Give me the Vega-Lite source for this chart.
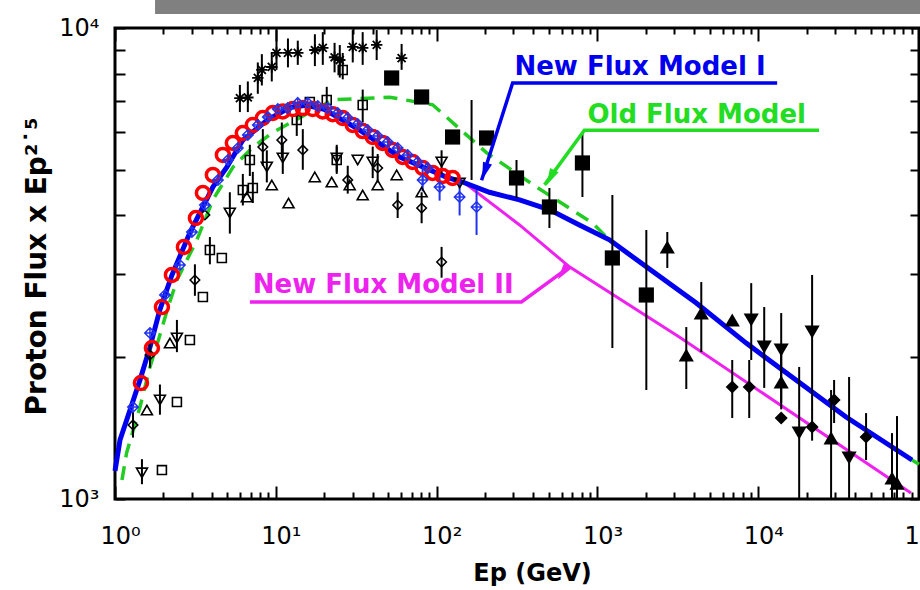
{
 "$schema": "https://vega.github.io/schema/vega-lite/v6.json",
 "width": 804, "height": 471,
 "autosize": "none",
 "padding": {"left": 115, "top": 28, "right": 1, "bottom": 91},
 "background": "white",
 "config": {"view": {"stroke": "black", "strokeWidth": 3}, "axis": {"domain": false, "ticks": true, "tickColor": "black", "tickWidth": 2, "grid": false}},
 "resolve": {"axis": {"x": "independent", "y": "independent"}},
 "datasets": {
  "bar": [{"E1": 1.774, "E2": 103000, "F1": 10708, "F2": 11466}],
  "curves": [
   {"s":"Old","E":1.105,"F":1097},{"s":"Old","E":1.18,"F":1252},{"s":"Old","E":1.43,"F":1568},{"s":"Old","E":1.65,"F":1906},{"s":"Old","E":1.86,"F":2174},{"s":"Old","E":2.14,"F":2556},{"s":"Old","E":2.43,"F":2917},{"s":"Old","E":3.23,"F":3548},{"s":"Old","E":4.06,"F":4316},{"s":"Old","E":5.42,"F":5067},{"s":"Old","E":7.21,"F":5585},{"s":"Old","E":9.57,"F":6000},{"s":"Old","E":22.6,"F":7040},{"s":"Old","E":51,"F":7130},{"s":"Old","E":94.5,"F":6870},{"s":"Old","E":205,"F":5430},{"s":"Old","E":418,"F":4595},{"s":"Old","E":931,"F":3855},{"s":"Old","E":1188,"F":3550},{"s":"Old","E":2015,"F":3111},{"s":"Old","E":4120,"F":2607},{"s":"Old","E":8420,"F":2143},{"s":"Old","E":35200,"F":1493},{"s":"Old","E":90500,"F":1210},{"s":"Old","E":100000,"F":1185},
   {"s":"I","E":1.0,"F":1147},{"s":"I","E":1.074,"F":1334},{"s":"I","E":1.24,"F":1545},{"s":"I","E":1.43,"F":1789},{"s":"I","E":1.65,"F":2101},{"s":"I","E":1.9,"F":2520},{"s":"I","E":2.26,"F":2989},{"s":"I","E":2.92,"F":3673},{"s":"I","E":4.06,"F":4595},{"s":"I","E":4.96,"F":5067},{"s":"I","E":6.24,"F":5782},{"s":"I","E":8.81,"F":6370},{"s":"I","E":12.2,"F":6780},{"s":"I","E":15.5,"F":6850},{"s":"I","E":20,"F":6720},{"s":"I","E":33.3,"F":6070},{"s":"I","E":59,"F":5322},{"s":"I","E":115,"F":4826},{"s":"I","E":145,"F":4710},{"s":"I","E":213,"F":4480},{"s":"I","E":328,"F":4316},{"s":"I","E":505,"F":4110},{"s":"I","E":773,"F":3818},{"s":"I","E":1188,"F":3550},{"s":"I","E":2015,"F":3111},{"s":"I","E":4120,"F":2607},{"s":"I","E":8420,"F":2143},{"s":"I","E":35200,"F":1493},{"s":"I","E":90500,"F":1210},
   {"s":"II","E":115,"F":4826},{"s":"II","E":149,"F":4690},{"s":"II","E":328,"F":3818},{"s":"II","E":670,"F":3111},{"s":"II","E":3230,"F":2208},{"s":"II","E":89100,"F":1030}
  ],
  "pts": [
   {"s":"ast","E":5.98,"F":7096,"lo":6630,"hi":7570},{"s":"ast","E":6.7,"F":7120,"lo":6630,"hi":7700},{"s":"ast","E":7.73,"F":7835,"lo":7250,"hi":8450},{"s":"ast","E":8.19,"F":8148,"lo":7550,"hi":8800},{"s":"ast","E":9.44,"F":8265,"lo":7700,"hi":8850},{"s":"ast","E":10.1,"F":8852,"lo":8150,"hi":9900},{"s":"ast","E":11.9,"F":8852,"lo":8250,"hi":9500},{"s":"ast","E":13.7,"F":8852,"lo":8350,"hi":9400},{"s":"ast","E":17.5,"F":8980,"lo":8300,"hi":9700},{"s":"ast","E":19.6,"F":9076,"lo":8350,"hi":9800},{"s":"ast","E":23.2,"F":8667,"lo":8050,"hi":9300},{"s":"ast","E":25.0,"F":8551,"lo":7850,"hi":9200},{"s":"ast","E":30.1,"F":9120,"lo":8450,"hi":9900},{"s":"ast","E":34.7,"F":9076,"lo":8350,"hi":9800},{"s":"ast","E":42.4,"F":9210,"lo":8550,"hi":9900},{"s":"ast","E":60.6,"F":8630,"lo":8150,"hi":9250},
   {"s":"osq","E":1.958,"F":1152},{"s":"osq","E":2.427,"F":1607},{"s":"osq","E":2.923,"F":2176},{"s":"osq","E":3.521,"F":2685},{"s":"osq","E":3.891,"F":3378,"lo":3150,"hi":3600},{"s":"osq","E":4.618,"F":3249},{"s":"osq","E":6.237,"F":4530,"lo":4200,"hi":4900},{"s":"osq","E":7.196,"F":4574,"lo":4250,"hi":4950},{"s":"osq","E":6.896,"F":5245,"lo":4850,"hi":5650},{"s":"osq","E":13.5,"F":6376,"lo":5900,"hi":6900},{"s":"osq","E":16.27,"F":6964},{"s":"osq","E":20.74,"F":7032,"lo":6600,"hi":7500},{"s":"osq","E":26.08,"F":8143,"lo":7780,"hi":8852},{"s":"osq","E":23.93,"F":5245,"lo":4900,"hi":5600},{"s":"osq","E":34.71,"F":6862,"lo":6300,"hi":7400},
   {"s":"otri","E":1.58,"F":1545},{"s":"otri","E":2.196,"F":2144},{"s":"otri","E":6.604,"F":4377},{"s":"otri","E":9.445,"F":4642},{"s":"otri","E":12.0,"F":4250},{"s":"otri","E":17.47,"F":4828},{"s":"otri","E":22.27,"F":4710},{"s":"otri","E":28.81,"F":4642},{"s":"otri","E":34.71,"F":4420},{"s":"otri","E":43.01,"F":4642},{"s":"otri","E":56.44,"F":4875},{"s":"otri","E":80.7,"F":4485},
   {"s":"otrd","E":1.471,"F":1136,"lo":1075,"hi":1215},{"s":"otrd","E":1.903,"F":1623,"lo":1510,"hi":1750},{"s":"otrd","E":2.427,"F":2197,"lo":2050,"hi":2400},{"s":"otrd","E":5.178,"F":4048,"lo":3660,"hi":4480},{"s":"otrd","E":8.794,"F":5069,"lo":4700,"hi":5500},{"s":"otrd","E":11.05,"F":5297,"lo":4900,"hi":5700},{"s":"otrd","E":23.93,"F":5297,"lo":4950,"hi":5650},{"s":"otrd","E":32.31,"F":5245},{"s":"otrd","E":40.05,"F":5195,"lo":4800,"hi":5600},{"s":"otrd","E":107.4,"F":5195,"lo":4900,"hi":5500},{"s":"otrd","E":139,"F":4688},
   {"s":"odia","E":1.294,"F":1436,"lo":1350,"hi":1530},{"s":"odia","E":1.65,"F":2022,"lo":1900,"hi":2150},{"s":"odia","E":3.14,"F":2917,"lo":2700,"hi":3150},{"s":"odia","E":3.623,"F":4009},{"s":"odia","E":8.305,"F":5590,"lo":5100,"hi":6100},{"s":"odia","E":10.9,"F":5783,"lo":5300,"hi":6300},{"s":"odia","E":14.72,"F":5508,"lo":5000,"hi":6100},{"s":"odia","E":28.01,"F":4757,"lo":4450,"hi":5100},{"s":"odia","E":43.01,"F":5045,"lo":4700,"hi":5400},{"s":"odia","E":57.25,"F":4209,"lo":3950,"hi":4480},{"s":"odia","E":80.7,"F":4147,"lo":3850,"hi":4480},{"s":"odia","E":107.4,"F":3185,"lo":2950,"hi":3430},
   {"s":"bar","E":165,"F":5800,"lo":4757,"hi":7032},
   {"s":"red","E":1.45,"F":1763},{"s":"red","E":1.697,"F":2092},{"s":"red","E":1.958,"F":2556},{"s":"red","E":2.26,"F":2990},{"s":"red","E":2.683,"F":3428},{"s":"red","E":3.185,"F":3950},{"s":"red","E":3.521,"F":4464},{"s":"red","E":4.062,"F":4875},{"s":"red","E":4.687,"F":5376},{"s":"red","E":5.407,"F":5700},{"s":"red","E":6.237,"F":5985},{"s":"red","E":7.196,"F":6224},{"s":"red","E":8.305,"F":6440},{"s":"red","E":9.581,"F":6600},{"s":"red","E":11.05,"F":6650},{"s":"red","E":12.76,"F":6730},{"s":"red","E":14.72,"F":6760},{"s":"red","E":16.98,"F":6730},{"s":"red","E":19.59,"F":6650},{"s":"red","E":22.6,"F":6560},{"s":"red","E":26.08,"F":6440},{"s":"red","E":30.08,"F":6224},{"s":"red","E":34.71,"F":6043},{"s":"red","E":40.05,"F":5869},{"s":"red","E":46.2,"F":5700},{"s":"red","E":53.31,"F":5508},{"s":"red","E":61.5,"F":5323},{"s":"red","E":70.96,"F":5195},{"s":"red","E":81.87,"F":5045},{"s":"red","E":94.46,"F":4923},{"s":"red","E":109,"F":4852},{"s":"red","E":125.7,"F":4804},
   {"s":"bl","E":1.294,"F":1568},{"s":"bl","E":1.65,"F":2251},{"s":"bl","E":2.045,"F":2711},{"s":"bl","E":2.533,"F":3140},{"s":"bl","E":3.008,"F":3689},{"s":"bl","E":3.623,"F":4209},{"s":"bl","E":4.363,"F":4757},{"s":"bl","E":5.035,"F":5245},{"s":"bl","E":5.808,"F":5563},{"s":"bl","E":6.701,"F":5927},{"s":"bl","E":7.731,"F":6224},{"s":"bl","E":8.92,"F":6471},{"s":"bl","E":10.29,"F":6730},{"s":"bl","E":11.87,"F":6763},{"s":"bl","E":13.7,"F":6933},{"s":"bl","E":15.81,"F":6933},{"s":"bl","E":18.24,"F":6830},{"s":"bl","E":21.04,"F":6763},{"s":"bl","E":24.28,"F":6600},{"s":"bl","E":28.01,"F":6440},{"s":"bl","E":32.31,"F":6254},{"s":"bl","E":37.28,"F":6073},{"s":"bl","E":43.01,"F":5898},{"s":"bl","E":49.62,"F":5728},{"s":"bl","E":57.25,"F":5563},{"s":"bl","E":66.05,"F":5376},{"s":"bl","E":76.21,"F":5195},{"s":"bl","E":87.92,"F":5045},
   {"s":"bx","E":81.87,"F":4757,"lo":4500,"hi":5050},{"s":"bx","E":104.4,"F":4597,"lo":4300,"hi":4900},{"s":"bx","E":139,"F":4377,"lo":4000,"hi":4750},{"s":"bx","E":177.2,"F":4169,"lo":3636,"hi":4530},
   {"s":"fsq","E":52.54,"F":7832},{"s":"fsq","E":80.7,"F":7137},{"s":"fsq","E":125.7,"F":5869},{"s":"fsq","E":204.5,"F":5841},{"s":"fsq","E":314,"F":4804,"lo":4356,"hi":5245},{"s":"fsq","E":503,"F":4169,"lo":3761,"hi":4574},{"s":"fsq","E":807,"F":5170,"lo":4377,"hi":5985},{"s":"fsq","E":1239,"F":3249,"lo":2092,"hi":4420},{"s":"fsq","E":2015,"F":2711,"lo":1704,"hi":3725},
   {"s":"ftu","E":2721,"F":3428,"lo":3094,"hi":3689},{"s":"ftu","E":4426,"F":2482,"lo":2051,"hi":2888},{"s":"ftu","E":3571,"F":2022,"lo":1712,"hi":2318},{"s":"ftu","E":6895,"F":2399},{"s":"ftu","E":13900,"F":1772,"lo":1550,"hi":2100},{"s":"ftu","E":28400,"F":1348,"lo":1000,"hi":1704},{"s":"ftu","E":67960,"F":1108,"lo":1000,"hi":1380},{"s":"ftu","E":73000,"F":1081,"lo":1000,"hi":1500},
   {"s":"ftd","E":9050,"F":2399,"lo":1973,"hi":2873},{"s":"ftd","E":10900,"F":2102,"lo":1721,"hi":2556},{"s":"ftd","E":13900,"F":2072,"lo":1600,"hi":2482},{"s":"ftd","E":21640,"F":2262,"lo":1545,"hi":2990},{"s":"ftd","E":17980,"F":1381,"lo":1000,"hi":1907},{"s":"ftd","E":36750,"F":1222,"lo":1000,"hi":1816},
   {"s":"fdi","E":6895,"F":1729,"lo":1486,"hi":1973},{"s":"fdi","E":8793,"F":1729,"lo":1486,"hi":1973},{"s":"fdi","E":13900,"F":1486},{"s":"fdi","E":21640,"F":1422,"lo":1330,"hi":1550},{"s":"fdi","E":29650,"F":1623,"lo":1450,"hi":1789},{"s":"fdi","E":46860,"F":1354,"lo":1210,"hi":1522}
  ],
  "ann": [
   {"g":"I","o":1,"E":13120,"F":7642},{"g":"I","o":2,"E":297,"F":7642},{"g":"I","o":3,"E":190.4,"F":4750},
   {"g":"Old","o":1,"E":23900,"F":6067},{"g":"Old","o":2,"E":830,"F":6067},{"g":"Old","o":3,"E":469,"F":4645},
   {"g":"II","o":1,"E":6.9,"F":2620},{"g":"II","o":2,"E":337,"F":2620},{"g":"II","o":3,"E":670,"F":3111}
  ],
  "labels": [
   {"g":"I","t":"New Flux Model I","E":305,"F":7945},
   {"g":"Old","t":"Old Flux Model","E":867,"F":6280},
   {"g":"II","t":"New Flux Model II","E":7.2,"F":2736}
  ],
  "heads": [
   {"g":"I","E":199.5,"F":4962},
   {"g":"Old","E":510,"F":4808},
   {"g":"II","E":610,"F":3027}
  ]
 },
 "layer": [
  {"data": {"name": "bar"}, "mark": {"type": "rect", "color": "#808080"},
   "encoding": {
    "x": {"field": "E1", "type": "quantitative", "scale": {"type": "log", "domain": [1, 100000], "nice": false}, "axis": null},
    "x2": {"field": "E2"},
    "y": {"field": "F1", "type": "quantitative", "scale": {"type": "log", "domain": [1000, 10000], "nice": false}, "axis": null},
    "y2": {"field": "F2"}}},
  {"data": {"name": "curves"}, "transform": [{"filter": "datum.s=='Old'"}],
   "mark": {"type": "line", "color": "#22cc22", "strokeWidth": 3.5, "strokeDash": [14, 9]},
   "encoding": {
    "x": {"field": "E", "type": "quantitative", "scale": {"type": "log", "domain": [1, 100000], "nice": false},
     "axis": {"orient": "bottom", "values": [1,2,3,4,5,6,7,8,9,10,20,30,40,50,60,70,80,90,100,200,300,400,500,600,700,800,900,1000,2000,3000,4000,5000,6000,7000,8000,9000,10000,20000,30000,40000,50000,60000,70000,80000,90000,100000],
      "tickSize": -13,
      "tickDash": {"condition": {"test": "abs(log(datum.value)/LN10-round(log(datum.value)/LN10))<0.01", "value": [13, 100]}, "value": [7, 100]},
      "labelExpr": "datum.value==1?'10⁰':datum.value==10?'10¹':datum.value==100?'10²':datum.value==1000?'10³':datum.value==10000?'10⁴':datum.value==100000?'10⁵':''",
      "labelFont": "DejaVu Sans", "labelFontSize": 24, "labelColor": "black", "labelAlign": "left", "labelBaseline": "alphabetic", "labelOffset": -15, "labelPadding": 57, "labelFlush": false, "labelOverlap": false, "labelBound": false,
      "title": "Ep (GeV)", "titleFont": "DejaVu Sans", "titleFontSize": 24, "titleFontWeight": "bold", "titleColor": "black", "titleX": 417, "titleY": 81, "titleAlign": "center", "titleBaseline": "alphabetic"}},
    "y": {"field": "F", "type": "quantitative", "scale": {"type": "log", "domain": [1000, 10000], "nice": false},
     "axis": {"orient": "left", "values": [1000,2000,3000,4000,5000,6000,7000,8000,9000,10000],
      "tickSize": -10,
      "labelExpr": "datum.value==1000?'10³':datum.value==10000?'10⁴':''",
      "labelFont": "DejaVu Sans", "labelFontSize": 24, "labelColor": "black", "labelAlign": "right", "labelBaseline": "middle", "labelPadding": 26, "labelFlush": false, "labelOverlap": false, "labelBound": false,
      "title": "Proton Flux x Ep²˙⁵", "titleFont": "DejaVu Sans", "titleFontSize": 28, "titleFontWeight": "bold", "titleColor": "black", "titleAngle": 270, "titleX": -70, "titleY": 238, "titleAlign": "center", "titleBaseline": "alphabetic"}}}},
  {"data": {"name": "curves"}, "transform": [{"filter": "datum.s=='II'"}],
   "mark": {"type": "line", "color": "#ee22ee", "strokeWidth": 3},
   "encoding": {
    "x": {"field": "E", "type": "quantitative", "scale": {"type": "log", "domain": [1, 100000], "nice": false},
     "axis": {"orient": "top", "values": [1,2,3,4,5,6,7,8,9,10,20,30,40,50,60,70,80,90,100,200,300,400,500,600,700,800,900,1000,2000,3000,4000,5000,6000,7000,8000,9000,10000,20000,30000,40000,50000,60000,70000,80000,90000,100000],
      "tickSize": -13,
      "tickDash": {"condition": {"test": "abs(log(datum.value)/LN10-round(log(datum.value)/LN10))<0.01", "value": [13, 100]}, "value": [6, 100]},
      "labels": false, "title": null}},
    "y": {"field": "F", "type": "quantitative", "scale": {"type": "log", "domain": [1000, 10000], "nice": false},
     "axis": {"orient": "right", "values": [1000,2000,3000,4000,5000,6000,7000,8000,9000,10000],
      "tickSize": -9,
      "labels": false, "title": null}}}},
  {"data": {"name": "curves"}, "transform": [{"filter": "datum.s=='I'"}],
   "mark": {"type": "line", "color": "#0000ee", "strokeWidth": 5},
   "encoding": {
    "x": {"field": "E", "type": "quantitative", "scale": {"type": "log", "domain": [1, 100000], "nice": false}, "axis": null},
    "y": {"field": "F", "type": "quantitative", "scale": {"type": "log", "domain": [1000, 10000], "nice": false}, "axis": null}}},
  {"data": {"name": "pts"}, "transform": [{"filter": "isValid(datum.lo) && datum.s!='bx'"}],
   "mark": {"type": "rule", "color": "black", "strokeWidth": 2},
   "encoding": {
    "x": {"field": "E", "type": "quantitative", "scale": {"type": "log", "domain": [1, 100000], "nice": false}, "axis": null},
    "y": {"field": "lo", "type": "quantitative", "scale": {"type": "log", "domain": [1000, 10000], "nice": false}, "axis": null},
    "y2": {"field": "hi"}}},
  {"data": {"name": "pts"}, "transform": [{"filter": "isValid(datum.lo) && datum.s=='bx'"}],
   "mark": {"type": "rule", "color": "#2233ee", "strokeWidth": 2},
   "encoding": {
    "x": {"field": "E", "type": "quantitative", "scale": {"type": "log", "domain": [1, 100000], "nice": false}, "axis": null},
    "y": {"field": "lo", "type": "quantitative", "scale": {"type": "log", "domain": [1000, 10000], "nice": false}, "axis": null},
    "y2": {"field": "hi"}}},
  {"data": {"name": "pts"}, "transform": [{"filter": "datum.s=='ast'"}],
   "mark": {"type": "point", "shape": "M-1,0L1,0M0,-1L0,1M-0.7,-0.7L0.7,0.7M-0.7,0.7L0.7,-0.7", "filled": false, "stroke": "black", "strokeWidth": 1.8, "size": 130, "opacity": 1},
   "encoding": {
    "x": {"field": "E", "type": "quantitative", "scale": {"type": "log", "domain": [1, 100000], "nice": false}, "axis": null},
    "y": {"field": "F", "type": "quantitative", "scale": {"type": "log", "domain": [1000, 10000], "nice": false}, "axis": null}}},
  {"data": {"name": "pts"}, "transform": [{"filter": "datum.s=='osq'"}],
   "mark": {"type": "point", "shape": "square", "filled": false, "stroke": "black", "strokeWidth": 1.6, "size": 80, "opacity": 1},
   "encoding": {
    "x": {"field": "E", "type": "quantitative", "scale": {"type": "log", "domain": [1, 100000], "nice": false}, "axis": null},
    "y": {"field": "F", "type": "quantitative", "scale": {"type": "log", "domain": [1000, 10000], "nice": false}, "axis": null}}},
  {"data": {"name": "pts"}, "transform": [{"filter": "datum.s=='otri'"}],
   "mark": {"type": "point", "shape": "triangle-up", "filled": false, "stroke": "black", "strokeWidth": 1.6, "size": 120, "opacity": 1},
   "encoding": {
    "x": {"field": "E", "type": "quantitative", "scale": {"type": "log", "domain": [1, 100000], "nice": false}, "axis": null},
    "y": {"field": "F", "type": "quantitative", "scale": {"type": "log", "domain": [1000, 10000], "nice": false}, "axis": null}}},
  {"data": {"name": "pts"}, "transform": [{"filter": "datum.s=='otrd'"}],
   "mark": {"type": "point", "shape": "triangle-down", "filled": false, "stroke": "black", "strokeWidth": 1.6, "size": 120, "opacity": 1},
   "encoding": {
    "x": {"field": "E", "type": "quantitative", "scale": {"type": "log", "domain": [1, 100000], "nice": false}, "axis": null},
    "y": {"field": "F", "type": "quantitative", "scale": {"type": "log", "domain": [1000, 10000], "nice": false}, "axis": null}}},
  {"data": {"name": "pts"}, "transform": [{"filter": "datum.s=='odia'"}],
   "mark": {"type": "point", "shape": "diamond", "filled": false, "stroke": "black", "strokeWidth": 1.6, "size": 90, "opacity": 1},
   "encoding": {
    "x": {"field": "E", "type": "quantitative", "scale": {"type": "log", "domain": [1, 100000], "nice": false}, "axis": null},
    "y": {"field": "F", "type": "quantitative", "scale": {"type": "log", "domain": [1000, 10000], "nice": false}, "axis": null}}},
  {"data": {"name": "pts"}, "transform": [{"filter": "datum.s=='red'"}],
   "mark": {"type": "point", "shape": "circle", "filled": false, "stroke": "#ff0000", "strokeWidth": 3.5, "size": 170, "opacity": 1},
   "encoding": {
    "x": {"field": "E", "type": "quantitative", "scale": {"type": "log", "domain": [1, 100000], "nice": false}, "axis": null},
    "y": {"field": "F", "type": "quantitative", "scale": {"type": "log", "domain": [1000, 10000], "nice": false}, "axis": null}}},
  {"data": {"name": "pts"}, "transform": [{"filter": "datum.s=='bl' || datum.s=='bx'"}],
   "mark": {"type": "point", "shape": "M0,-1L1,0L0,1L-1,0ZM-1,0L1,0M0,-1L0,1", "filled": false, "stroke": "#2233ee", "strokeWidth": 1.5, "size": 110, "opacity": 1},
   "encoding": {
    "x": {"field": "E", "type": "quantitative", "scale": {"type": "log", "domain": [1, 100000], "nice": false}, "axis": null},
    "y": {"field": "F", "type": "quantitative", "scale": {"type": "log", "domain": [1000, 10000], "nice": false}, "axis": null}}},
  {"data": {"name": "pts"}, "transform": [{"filter": "datum.s=='fsq'"}],
   "mark": {"type": "point", "shape": "square", "filled": true, "color": "black", "size": 230, "opacity": 1},
   "encoding": {
    "x": {"field": "E", "type": "quantitative", "scale": {"type": "log", "domain": [1, 100000], "nice": false}, "axis": null},
    "y": {"field": "F", "type": "quantitative", "scale": {"type": "log", "domain": [1000, 10000], "nice": false}, "axis": null}}},
  {"data": {"name": "pts"}, "transform": [{"filter": "datum.s=='ftu'"}],
   "mark": {"type": "point", "shape": "triangle-up", "filled": true, "color": "black", "size": 230, "opacity": 1},
   "encoding": {
    "x": {"field": "E", "type": "quantitative", "scale": {"type": "log", "domain": [1, 100000], "nice": false}, "axis": null},
    "y": {"field": "F", "type": "quantitative", "scale": {"type": "log", "domain": [1000, 10000], "nice": false}, "axis": null}}},
  {"data": {"name": "pts"}, "transform": [{"filter": "datum.s=='ftd'"}],
   "mark": {"type": "point", "shape": "triangle-down", "filled": true, "color": "black", "size": 230, "opacity": 1},
   "encoding": {
    "x": {"field": "E", "type": "quantitative", "scale": {"type": "log", "domain": [1, 100000], "nice": false}, "axis": null},
    "y": {"field": "F", "type": "quantitative", "scale": {"type": "log", "domain": [1000, 10000], "nice": false}, "axis": null}}},
  {"data": {"name": "pts"}, "transform": [{"filter": "datum.s=='fdi'"}],
   "mark": {"type": "point", "shape": "diamond", "filled": true, "color": "black", "size": 170, "opacity": 1},
   "encoding": {
    "x": {"field": "E", "type": "quantitative", "scale": {"type": "log", "domain": [1, 100000], "nice": false}, "axis": null},
    "y": {"field": "F", "type": "quantitative", "scale": {"type": "log", "domain": [1000, 10000], "nice": false}, "axis": null}}},
  {"data": {"name": "ann"},
   "mark": {"type": "line", "strokeWidth": 3.5},
   "encoding": {
    "x": {"field": "E", "type": "quantitative", "scale": {"type": "log", "domain": [1, 100000], "nice": false}, "axis": null},
    "y": {"field": "F", "type": "quantitative", "scale": {"type": "log", "domain": [1000, 10000], "nice": false}, "axis": null},
    "detail": {"field": "g"},
    "order": {"field": "o"},
    "color": {"field": "g", "type": "nominal", "scale": {"domain": ["I", "Old", "II"], "range": ["#0000ee", "#22dd22", "#ee22ee"]}, "legend": null}}},
  {"data": {"name": "heads"},
   "mark": {"type": "point", "shape": "M0,-1L0.55,1L-0.55,1Z", "filled": true, "size": 300, "opacity": 1},
   "encoding": {
    "x": {"field": "E", "type": "quantitative", "scale": {"type": "log", "domain": [1, 100000], "nice": false}, "axis": null},
    "y": {"field": "F", "type": "quantitative", "scale": {"type": "log", "domain": [1000, 10000], "nice": false}, "axis": null},
    "color": {"field": "g", "type": "nominal", "scale": {"domain": ["I", "Old", "II"], "range": ["#0000ee", "#22dd22", "#ee22ee"]}, "legend": null},
    "angle": {"field": "g", "type": "nominal", "scale": {"domain": ["I", "Old", "II"], "range": [198, 216, 54]}, "legend": null}}},
  {"data": {"name": "labels"},
   "mark": {"type": "text", "align": "left", "baseline": "alphabetic", "font": "DejaVu Sans", "fontSize": 26, "fontWeight": "bold"},
   "encoding": {
    "x": {"field": "E", "type": "quantitative", "scale": {"type": "log", "domain": [1, 100000], "nice": false}, "axis": null},
    "y": {"field": "F", "type": "quantitative", "scale": {"type": "log", "domain": [1000, 10000], "nice": false}, "axis": null},
    "text": {"field": "t"},
    "color": {"field": "g", "type": "nominal", "scale": {"domain": ["I", "Old", "II"], "range": ["#0000ee", "#22dd22", "#ee22ee"]}, "legend": null}}}
 ]
}
